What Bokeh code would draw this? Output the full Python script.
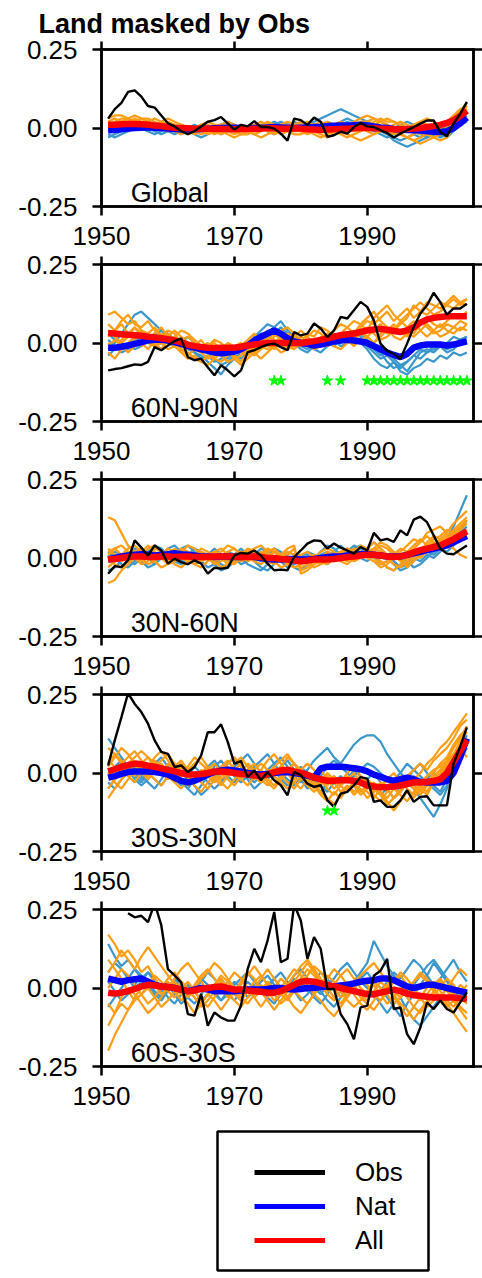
import numpy as np
from bokeh.plotting import figure
from bokeh.layouts import column
from bokeh.models import (Range1d, LinearAxis, FixedTicker, PrintfTickFormatter,
                          Label, Legend, LegendItem, BoxAnnotation)
from bokeh.embed import file_html
from bokeh.resources import INLINE

# Annual anomalies, 1951-2005, all series in units of 0.01
YEARS = list(range(1951, 2006))

# ---------------- Global ----------------
GLOBAL_OBS = [3, 6, 8, 11.5, 12, 10, 7, 6.5, 4, 1.5,
              0.5, -1, -2, -1, 0.5, 2, 2.5, 3.5, 1.5, -0.5,
              1, 0.5, 2.2, 0.3, 0.3, -0.2, -1.8, -4, 3, 2.5,
              1, 3.3, 2, -2.8, -2.3, -1.2, -1.8, 0.3, 1.6, 0.5,
              0.3, -0.7, -1.6, -3, -1.8, -0.7, 0.3, 1.4, 2.4, 2.4,
              -1.3, -2.6, 1.4, 4.5, 8.3]
GLOBAL_NAT = [-0.7, -0.6, -0.4, -0.2, 0, 0.1, 0.2, 0.1, 0, -0.2,
              -0.3, -0.4, -0.5, -0.4, -0.3, -0.2, -0.1, 0, 0.1, 0.1,
              0, -0.1, 0, 0.1, 0.2, 0.3, 0.2, 0.1, 0, 0.1,
              0.2, 0.3, 0.4, 0.6, 0.7, 0.8, 0.8, 0.9, 1, 0.8,
              0.5, 0.2, 0, -0.3, -0.5, -0.6, -0.7, -0.8, -1.0, -1.2,
              -1.3, -1.0, 0, 1.5, 3.3]
GLOBAL_ALL = [1, 1, 1.2, 1.3, 1.3, 1.2, 1, 0.8, 0.6, 0.3,
              0.1, 0, -0.1, -0.2, -0.2, -0.2, -0.3, -0.3, -0.3, -0.4,
              -0.3, -0.3, -0.2, -0.2, -0.1, -0.1, -0.2, -0.2, -0.1, -0.2,
              -0.4, -0.5, -0.6, -0.5, -0.4, -0.3, -0.2, -0.1, 0, 0,
              -0.1, -0.2, -0.3, -0.4, -0.4, -0.3, -0.2, 0, 0.3, 0.6,
              1, 1.6, 2.5, 3.8, 5.5]
GLOBAL_ALL_RUNS = [
    [1, 2, 3, 3, 2, 2, 1, 1, 0, 1, 0, -1, -1, 0, 1, 0, -1, -2, -1, 0, 0, -1, -1, 0, 1, 1, 0, -1, -2, -2,
     -1, 0, 1, 2, 1, 0, -1, -1, 0, 1, 2, 3, 2, 2, 1, 0, -1, -2, -1, 0, 1, 2, 4, 6, 7],
    [0, 1, 2, 3, 4, 3, 2, 1, 1, 2, 1, 0, -1, -2, -1, 0, 1, 1, 0, -1, -2, -2, -1, 0, 0, 1, 0, -1, 0, 1,
     0, -1, -2, -3, -2, -1, 0, 1, 2, 2, 3, 2, 1, -1, -2, -3, -4, -3, -2, -3, -2, 0, 2, 4, 6],
    [2, 3, 2, 1, 2, 3, 3, 2, 1, 0, 0, 1, 0, -1, -2, -1, 0, 1, 2, 1, 0, -1, 0, 1, 2, 1, 0, 0, -1, -1,
     -2, -1, -1, 0, 1, 2, 1, 0, -1, 0, 1, 2, 1, 0, -2, -3, -2, -1, -2, -3, -4, -3, 0, 3, 5],
    [-1, 0, 1, 2, 2, 1, 0, 1, 2, 3, 2, 1, 0, 0, -1, -2, -1, 0, -1, -2, -1, 0, 1, 0, -1, -2, -1, 0, 1, 2,
     1, 0, -1, 0, -1, -2, -3, -2, -1, 0, 1, 0, -1, -2, -1, 0, 1, 2, 3, 2, 1, 2, 4, 5, 8],
    [3, 4, 4, 3, 2, 1, 2, 3, 2, 1, 0, -1, -2, -1, 0, 1, 0, -1, -2, -3, -2, -1, -2, -1, 0, -1, -2, -1, 0, 1,
     2, 1, 0, -1, -2, -1, 0, 1, 0, -1, -2, -1, 0, 1, 2, 1, 0, -1, -2, -1, 0, 1, 3, 4, 6],
    [1, 1, 2, 2, 3, 2, 1, 0, 1, 0, -1, -2, -1, 0, 1, 2, 1, 0, 1, 0, -1, 0, 1, 2, 1, 0, 1, 2, 1, 0,
     -1, -2, -3, -2, -1, 0, 1, 2, 3, 4, 3, 2, 3, 2, 1, 0, 1, 2, 1, 0, -1, 0, 2, 5, 7],
    [2, 1, 0, 1, 2, 3, 2, 1, 0, -1, 0, 1, 0, -1, 0, -1, -2, -1, 0, 1, 0, -1, -2, -3, -2, -1, 0, 1, 0, -1,
     0, 1, 2, 1, 0, -1, -2, -3, -4, -3, -2, -1, 0, -1, -2, -3, -4, -5, -4, -3, -2, -1, 1, 3, 5],
]
GLOBAL_NAT_RUNS = [
    [-3, -2, -1, 0, 1, 0, -1, 0, 1, 0, -1, -2, -1, 0, 1, 0, -1, -2, -1, 0, 1, 0, -1, 0, 1, 2, 1, 0, -1, 0,
     1, 2, 3, 4, 5, 6, 5, 4, 3, 2, 1, 0, -2, -4, -5, -6, -5, -4, -3, -2, -1, 0, 2, 5, 8],
    [-2, -3, -2, -1, 0, 1, 0, -1, -2, -1, 0, 1, 0, -1, -2, -1, 0, 1, 0, -1, -2, -1, 0, 1, 0, -1, 0, 1, 2, 1,
     0, 1, 0, -1, 0, 1, 2, 1, 0, 1, 0, -1, -2, -3, -4, -3, -2, -3, -2, -1, -2, -3, -1, 1, 2],
    [0, 1, 0, -1, 0, 1, 2, 1, 0, -1, -2, -1, 0, 1, 0, -1, 0, 1, 2, 1, 0, -1, -2, -1, 0, 1, 2, 1, 0, -1,
     -1, 0, 1, 2, 1, 0, -1, 0, 1, 2, 3, 2, 1, 0, 1, 2, 1, 0, -1, -2, -1, 1, 3, 5, 7],
    [-1, 0, 1, 2, 1, 0, -1, -2, -1, 0, 1, 0, -1, -2, -3, -2, -1, 0, 1, 0, -1, 0, 1, 0, -1, -2, -1, 0, 1, 2,
     1, 0, -1, 0, 1, 2, 3, 2, 1, 0, -1, -2, -3, -2, -1, 0, -1, -2, -3, -2, -3, -2, 0, 2, 4],
]

# ---------------- 60N-90N ----------------
N60_OBS = [-8.7, -8.3, -8.0, -7.4, -6.8, -7.0, -6.0, -1.3, -2.3, -0.8,
           0.6, 1.5, -4.5, -5.5, -5.0, -7.7, -10.3, -7.1, -8.7, -10.6,
           -8.7, -2.9, -2.3, -1.3, -0.5, -0.2, -1.3, -2.3, 3.5, 2.4,
           3.0, 6.2, 4.6, 1.9, 4.0, 8.3, 7.8, 10.4, 13.1, 11.5,
           7.2, -0.2, -2.5, -3.5, -5.0, -0.2, 5.1, 9.4, 12.0, 16.0,
           13.0, 9.0, 11.0, 11.0, 12.5]
N60_NAT = [-1.5, -1.5, -1.2, -0.8, -0.3, 0.2, 0.8, 1.0, 1.0, 0.8,
           0.3, -0.3, -1.0, -1.5, -2.0, -2.5, -3.0, -3.3, -3.0, -2.8,
           -2.0, -0.8, 0.8, 2.0, 3.0, 4.0, 3.0, 1.5, 0.5, 0,
           -0.3, -0.8, -0.5, 0, 0.5, 0.8, 1.0, 0.8, 0.5, 0,
           -1.0, -2.0, -3.0, -3.8, -4.5, -3.5, -1.5, -0.8, -0.5, -0.5,
           -0.5, -0.8, -0.5, 0, 0.5]
N60_ALL = [3.2, 3.0, 2.8, 2.6, 2.5, 2.3, 2.0, 1.8, 1.5, 1.2,
           0.8, 0.2, -0.5, -1.0, -1.3, -1.5, -1.6, -1.5, -1.5, -1.5,
           -1.2, -0.8, -0.5, -0.2, 0, 0, 0, 0, 0, 0,
           0.3, 0.6, 1.0, 1.5, 2.0, 2.5, 2.8, 3.0, 3.5, 4.0,
           4.3, 4.5, 4.2, 3.8, 3.5, 4.0, 5.0, 6.5, 7.5, 8.0,
           8.3, 8.5, 8.5, 8.5, 8.5]
N60_ALL_RUNS = [
    [9, 10, 8, 6, 7, 4, 3, 5, 2, 0, 1, -2, -3, -5, -6, -4, -5, -3, -2, -4, -6, -3, -1, 2, 0, -2, 1, 3, 2, 0,
     2, 4, 3, 1, 4, 6, 5, 3, 6, 8, 10, 7, 5, 4, 6, 8, 12, 10, 9, 11, 13, 12, 14, 12, 14],
    [2, 4, 6, 3, 5, 2, 0, -1, 1, 3, 0, -2, -4, -2, -3, -5, -4, -2, 0, -1, -3, -4, -2, 0, 1, -1, -3, -2, 0, 2,
     1, -1, 0, 2, 3, 1, 2, 4, 3, 5, 3, 1, 2, 4, 7, 5, 3, 6, 8, 6, 5, 7, 9, 8, 10],
    [-3, -5, -2, 0, 2, 4, 1, 3, 5, 2, 4, 2, 0, -1, 1, -2, -3, -1, -4, -3, -1, 1, 3, 1, -1, 2, 4, 5, 3, 1,
     -1, 0, 2, 1, -1, -2, 0, 2, 4, 2, 0, 3, 5, 2, 1, 3, 2, 4, 6, 4, 2, 3, 5, 7, 6],
    [6, 4, 7, 9, 6, 5, 7, 4, 2, 4, 3, 0, -2, -1, -3, -1, 0, -2, -3, -1, 0, -2, -4, -2, 1, 3, 1, -1, -2, 0,
     3, 2, 5, 4, 2, 3, 5, 7, 6, 4, 8, 10, 12, 9, 7, 9, 11, 13, 11, 9, 10, 12, 11, 13, 12],
    [0, -2, 1, 3, 1, -1, 2, 0, -2, 1, -1, -3, -5, -4, -6, -7, -5, -6, -4, -2, -3, -1, -3, -5, -3, -1, 0, -2, -1, 1,
     -1, 1, 0, -1, 1, 2, 0, 1, 3, 2, 4, 6, 3, 5, 4, 2, 5, 7, 5, 3, 4, 6, 5, 4, 6],
    [4, 2, 0, 2, 5, 3, 1, -1, 0, -2, -1, 1, 2, 0, -2, -1, 1, 0, -2, -5, -4, -2, 0, -1, 2, 1, -1, 0, 2, 4,
     2, 0, 1, 3, 2, 0, 1, 3, 5, 7, 6, 8, 10, 7, 9, 11, 8, 10, 13, 12, 11, 13, 15, 13, 14],
    [-1, 1, -1, -3, -1, 0, -2, 1, 3, 1, 2, 4, 3, 1, -1, 0, -2, -4, -6, -5, -7, -5, -3, -1, -2, 0, 2, 0, 1, -1,
     0, -2, -1, 1, 0, 2, 1, -1, 1, 2, 0, 2, 4, 6, 3, 5, 7, 4, 2, 4, 6, 4, 3, 5, 4],
]
N60_NAT_RUNS = [
    [-2, 0, 3, 6, 9, 10, 8, 6, 4, 2, 1, 0, -2, -3, -5, -4, -6, -5, -3, -2, -3, -1, 2, 4, 6, 5, 3, 1, -1, 0,
     1, -1, 0, 2, 1, -1, 0, 1, 0, -2, -5, -7, -8, -6, -9, -10, -8, -7, -5, -6, -4, -5, -3, -4, -3],
    [1, -1, -3, -2, 0, 2, 1, 3, 2, 0, -1, 1, -1, -3, -4, -6, -8, -10, -7, -5, -3, -1, 1, 3, 2, 4, 1, -1, 0, -2,
     -3, -1, 1, 0, -1, 1, 2, 0, 1, -1, -3, -5, -4, -6, -8, -6, -4, -5, -3, -2, -1, -3, -2, 0, 1],
    [-4, -2, 0, -1, 1, 3, 1, -1, 0, 2, 1, 0, 2, 0, -2, -3, -2, -4, -5, -3, -1, 0, -2, 1, 3, 5, 7, 4, 2, 1,
     -1, -2, -3, -1, 0, 2, 1, 3, 2, 0, -2, -4, -3, -5, -7, -6, -4, -2, -3, -1, 0, -2, -1, 1, 2],
    [3, 1, -1, 0, -2, -1, 1, 2, 4, 3, 1, -1, 0, -2, -1, -3, -5, -7, -6, -4, -5, -3, 0, 2, 4, 3, 5, 3, 1, -1,
     -2, 0, -1, 1, 2, 3, 1, 2, 3, 1, -2, -3, -6, -8, -7, -9, -6, -3, -2, -3, -1, 0, 2, 1, 2],
]
N60_STAR_YEARS = [1976, 1977, 1984, 1986, 1990, 1991, 1992, 1993, 1994, 1995, 1996,
                  1997, 1998, 1999, 2000, 2001, 2002, 2003, 2004, 2005]

# ---------------- 30N-60N ----------------
N30_OBS = [-5.0, -2.6, -2.9, -0.7, 5.6, 3.3, 0.8, 4.0, 2.4, -1.8,
           -0.2, -1.3, -2.0, -0.7, -1.8, -5.0, -3.1, -3.4, -3.1, 0.8,
           1.6, 1.4, 2.4, 0.8, -1.8, -3.9, -3.7, -3.9, 0.3, 2.4,
           4.6, 5.6, 5.4, 3.0, 4.6, 3.3, 2.4, 1.4, 3.5, 2.4,
           8.0, 5.6, 6.1, 5.1, 8.8, 7.2, 12.2, 13.2, 11.4, 7.2,
           3.0, 1.4, 1.2, 2.6, 4.0]
N30_NAT = [-0.5, 0, 0.5, 0.8, 1.0, 1.2, 1.0, 0.8, 1.0, 1.2,
           1.5, 1.2, 1.0, 0.8, 0.5, 0.5, 0.3, 0.5, 0.5, 0.3,
           0.3, 0.5, 0.3, 0, -0.3, -0.5, -0.5, -0.3, -0.3, -0.5,
           -0.5, -0.3, 0, 0.3, 0.5, 0.5, 0.8, 1.0, 1.2, 1.2,
           1.0, 0.8, 0.5, 0.5, 0.5, 1.0, 1.5, 2.0, 2.5, 3.0,
           3.5, 4.0, 5.0, 6.0, 7.0]
N30_ALL = [-0.5, -0.3, 0, 0.3, 0.5, 0.5, 0.3, 0.3, 0.5, 0.5,
           0.3, 0.5, 0.5, 0.3, 0.3, 0.3, 0.5, 0.5, 0.5, 0.5,
           0.3, 0.3, 0.5, 0.3, 0, 0, -0.3, -0.5, -0.8, -1.0,
           -0.8, -0.5, -0.5, -0.5, -0.3, 0, 0.3, 0.5, 0.8, 1.0,
           1.0, 0.8, 0.5, 0.3, 0.5, 1.0, 1.8, 2.5, 3.0, 3.5,
           4.0, 5.0, 6.0, 7.2, 8.5]
N30_ALL_RUNS = [
    [13, 12, 8, 4, 2, 3, 1, 0, 2, 1, -1, 0, 2, 1, -1, 0, -2, -1, 1, 0, 2, 1, -1, 0, 2, 3, 1, -1, 0, -2,
     -1, 1, 0, 2, 1, 0, -1, 1, 2, 0, -1, -3, -2, 0, 2, 4, 6, 5, 8, 9, 10, 8, 11, 13, 15],
    [-8, -7, -4, -2, 0, -1, 1, 3, 2, 0, -2, -3, -1, 0, 2, 1, -1, 0, 2, 3, 1, -1, 0, 2, 1, -1, -3, -2, 0, 1,
     2, 0, -2, -1, 1, 2, 0, -1, 1, 2, 1, -1, -3, -4, -2, 0, 1, 3, 4, 6, 7, 9, 8, 10, 12],
    [2, 3, 1, -1, 0, 2, 4, 2, 0, -1, 1, 3, 2, 0, -1, 1, 2, 0, -2, -1, 0, 2, 3, 4, 2, 0, -1, 1, 3, -4,
     -3, -1, 0, 2, 1, -1, -2, 0, 1, 3, 2, 4, 3, 1, -1, -2, 0, 2, 5, 7, 6, 5, 3, 1, 0],
    [0, -2, -3, -1, 1, 0, -2, -1, 1, 3, 2, 0, -1, 1, 3, 2, 0, 1, -1, -2, 0, 1, -1, -2, 0, 2, 1, 3, 4, -5,
     -4, -2, -1, 1, 0, 2, 3, 1, 0, 2, 3, 5, 4, 2, 0, -3, -1, 1, 3, 5, 4, 6, 9, 11, 13],
    [1, 3, 4, 2, 0, -2, -1, 1, 0, -2, 0, 2, 4, 3, 1, 0, 2, 3, 1, 0, -1, 0, 2, 1, -1, -2, 0, 2, 1, -3,
     -2, 0, 2, 3, 2, 0, 1, 3, 2, 1, 0, -2, -1, 1, 3, 2, 4, 6, 4, 3, 5, 7, 8, 7, 9],
    [-3, -1, 1, 3, 4, 2, 0, -1, -3, -2, -1, 1, 0, -2, -3, -1, 1, 2, 4, 3, 1, 3, 2, 0, -2, -1, 1, 0, -1, -2,
     0, 1, -1, -2, 0, 2, 1, -1, 0, 1, 3, 2, 0, -2, -3, -1, 1, 0, 2, 4, 6, 8, 7, 9, 11],
    [3, 1, -1, 0, 2, 1, 3, 4, 2, 1, 3, 1, -1, -2, 0, 1, -1, -3, -2, 0, 2, 0, -1, 1, 3, 2, 0, -2, -3, -2,
     -1, -3, -2, 0, -1, 1, 3, 2, 4, 3, 5, 3, 1, 2, 0, 1, 3, 5, 7, 5, 4, 6, 8, 10, 12],
]
N30_NAT_RUNS = [
    [-4, -3, -1, 1, 3, 2, 0, -1, 1, 3, 4, 2, 0, -2, -1, 1, 0, -2, -3, -1, 0, -2, -3, -4, -2, 0, 1, -1, -3, -4,
     -2, 0, 2, 4, 3, 1, 2, 4, 3, 1, 0, -2, -1, 1, 0, -1, -3, -2, 0, 2, 3, 6, 10, 15, 20],
    [0, 2, 1, -1, -2, 0, 2, 4, 3, 1, 0, -1, 1, 3, 2, 0, -2, -4, -3, -1, 1, 2, 0, -1, 1, 3, 2, 0, -2, -1,
     1, 0, -1, 1, 2, 4, 2, 0, 1, 3, 5, 3, 1, -1, -3, -2, 0, -1, 1, 0, 2, 4, 7, 9, 12],
    [2, 0, -2, -3, -1, 1, 0, -2, 0, 2, 1, 3, 4, 2, 0, 1, 3, 1, -1, 0, -2, -1, 1, 3, 2, 0, -1, -3, -2, 0,
     2, 1, -1, -2, 0, 1, 3, 2, 0, -1, 1, 2, 0, -2, -4, -3, -1, 1, 2, 1, 3, 2, 4, 6, 8],
    [1, -1, 0, 2, 1, -1, -3, -2, 0, 1, -1, -2, 0, 1, -1, -3, -2, 0, 2, 1, 3, 1, -1, -3, -4, -2, 0, 2, 1, -1,
     -2, -1, 1, 2, 0, -1, 1, 3, 4, 2, 0, -1, -3, -4, -2, -1, 1, 3, 2, 4, 5, 4, 6, 8, 10],
]

# ---------------- 30S-30N ----------------
TROP_OBS = [2.4, 10.4, 17.8, 25.4, 22.0, 19.4, 15.7, 10.4, 6.7, 6.1,
            1.9, 2.4, 0.3, 1.9, 5.6, 13.0, 13.0, 15.5, 9.9, 3.0,
            3.8, -1.3, 0.8, -2.3, 0.3, -2.3, -3.9, -7.1, 0.3, -0.7,
            -3.4, -4.4, -3.9, -8.7, -10.8, -6.6, -6.0, -3.9, -1.3, -1.8,
            -9.2, -8.7, -10.8, -10.8, -8.7, -5.5, -9.2, -7.6, -7.4, -10.3,
            -10.3, -10.3, 3.0, 8.5, 14.5]
TROP_NAT = [-1.5, -1.0, -0.3, 0.3, 0.5, 0.5, 0.5, 0.3, 0, -0.5,
            -1.5, -2.5, -3.0, -2.5, -1.5, -0.5, 0.3, 0.8, 1.0, 0.8,
            0.5, 0, -0.3, -0.5, -0.3, 0, 0.2, 0.3, 0, -0.3,
            -0.8, -1.5, 1.5, 2.0, 2.0, 2.0, 1.8, 1.5, 1.2, 0.5,
            -0.5, -1.2, -2.0, -2.5, -2.0, -1.5, -2.0, -2.8, -3.0, -3.0,
            -3.0, -2.5, 0, 5.0, 11.0]
TROP_ALL = [0.5, 1.2, 2.0, 2.5, 3.0, 2.8, 2.3, 2.0, 1.5, 1.0,
            0.5, 0, -0.5, -0.5, -0.3, 0, 0.5, 0.5, 0.3, 0,
            -0.3, -0.5, -0.8, -1.0, -0.5, 0.3, 0.8, 1.0, 0.5, 0,
            -0.5, -1.5, -2.0, -2.5, -2.5, -2.3, -2.3, -2.5, -3.0, -4.0,
            -4.3, -4.5, -4.5, -4.3, -4.0, -3.5, -3.0, -3.0, -2.8, -2.5,
            -2.0, 0, 3.5, 7.0, 10.5]
TROP_ALL_RUNS = [
    [8, 6, 3, 5, 7, 4, 2, 5, 7, 4, 1, 3, -1, -3, 0, 2, -2, -4, -1, 1, 3, 0, -2, 1, 4, 6, 3, 0, -3, -5,
     -2, -4, -7, -9, -6, -8, -5, -3, -6, -4, -7, -9, -6, -3, -1, -4, -2, 0, 3, 5, 8, 10, 13, 16, 19],
    [-8, -5, -2, 0, 3, 1, -1, 2, 4, 6, 3, 0, 2, 5, 3, 1, -1, -3, -5, -2, 0, 3, 1, -2, -4, -1, 2, 5, 3, 0,
     -2, -5, -3, 0, -2, -4, -6, -3, -1, -4, -6, -3, -5, -8, -6, -3, -5, -7, -4, -1, 1, 4, 8, 11, 15],
    [2, 5, 8, 6, 3, 0, -2, 1, 3, 0, -3, -5, -2, 0, -2, 1, 3, 0, -2, -4, -1, 1, -1, -3, -1, 2, 4, 6, 3, 1,
     3, 1, -2, -4, -1, -3, 0, 2, -1, -3, -5, -7, -10, -8, -5, -2, -4, -6, -3, 0, 3, 5, 9, 12, 14],
    [0, -3, -5, -2, 1, 3, 5, 3, 0, -2, 0, 2, -1, -4, -6, -3, -1, 2, 4, 1, -2, -4, -1, 1, -2, -4, -1, 1, 3, 0,
     -3, -1, 1, -2, -5, -3, -1, -4, -7, -5, -3, -6, -9, -12, -9, -6, -8, -5, -7, -3, -1, 2, 5, 7, 9],
    [4, 2, 0, 3, 5, 7, 5, 2, 0, 3, 1, -2, -4, -2, 1, -1, -3, -1, 2, 0, -2, 1, 3, 0, -3, -5, -2, 0, -2, 1,
     -1, -4, -2, -5, -7, -4, -2, 0, -3, -6, -8, -5, -2, 0, -3, -5, -7, -4, -6, -2, 0, 3, 6, 10, 13],
    [-5, -2, 1, -1, -3, 0, 2, 4, 1, -1, -3, -1, 1, 3, 5, 2, 0, -2, 0, 3, 5, 2, -1, -3, 0, 2, -1, -3, -5, -2,
     0, -3, -6, -8, -10, -7, -4, -6, -4, -2, -4, -6, -8, -5, -3, -1, 1, 3, 1, 4, 6, 8, 11, 15, 17],
    [3, 6, 4, 1, -1, 2, 0, -2, -4, -1, 2, 4, 1, -1, -3, -5, -2, 1, 3, 5, 2, -1, 1, 3, 1, -1, -3, -5, -3, -1,
     -4, -6, -4, -1, -3, -6, -4, -7, -5, -8, -6, -4, -2, -5, -7, -9, -6, -3, -1, 1, 2, 4, 6, 8, 5],
]
TROP_NAT_RUNS = [
    [11, 8, 5, 2, -1, -3, 0, -2, -4, -1, 1, -2, -5, -7, -4, -1, 2, 4, 1, -1, -3, -1, 2, 4, 6, 3, 0, -2, -4, -1,
     1, 4, 6, 8, 5, 3, 6, 9, 11, 12, 12, 10, 6, 3, 0, -2, 1, 3, 0, -4, -6, -2, 3, 7, 10],
    [-3, -5, -2, 0, 2, -1, -3, -5, -2, 1, 3, 0, -2, -4, -7, -5, -2, 0, 3, 5, 2, -1, -3, -1, 1, 3, 5, 2, -1, -3,
     -1, -4, -6, -3, -1, -4, -2, 1, -1, -3, -5, -7, -5, -8, -6, -3, -5, -8, -11, -14, -10, -5, 2, 8, 12],
    [0, 2, 4, 1, -2, -4, -2, 1, 3, 0, -2, -4, -1, 2, 0, -3, -5, -3, 0, 2, 4, 6, 3, 0, -2, 0, 2, 4, 1, -2,
     -5, -3, -1, 2, 4, 2, 0, -2, -4, -2, 0, -3, -5, -2, 0, 3, 1, -1, -3, -5, -7, -4, 0, 4, 8],
    [-5, -2, 1, 3, 0, -2, 1, 3, 5, 2, -1, -3, -5, -2, 0, 2, 4, 1, -1, -3, 0, -2, -5, -3, -1, 1, -2, -4, -1, 2,
     0, -2, -4, -6, -3, -1, -3, -1, 1, 3, 2, 0, -2, -4, -6, -3, -1, -4, -2, 0, -2, 1, 4, 6, 9],
]
TROP_STAR_YEARS = [1984, 1985]

# ---------------- 60S-30S ----------------
S60_OBS = [np.nan, np.nan, np.nan, 23.8, 22.5, 23.0, 21.0, 27.0, 20.0, 6.0,
           4.0, 1.8, -8.3, -8.8, -1.9, -12.0, -7.8, -9.4, -10.4, -10.4,
           -5.6, 6.0, 12.5, 8.2, 15.1, 24.2, 8.2, 9.3, 26.6, 21.5,
           9.3, 16.2, 12.5, -0.3, -0.3, -8.3, -11.5, -16.3, -6.2, -5.6,
           3.9, 5.5, 9.3, -6.7, -6.2, -14.7, -17.9, -12.6, -4.6, -6.7,
           -4.0, -6.7, -7.8, -4.6, -1.4]
S60_NAT = [3.0, 2.5, 2.0, 2.5, 2.8, 3.0, 2.0, 1.0, 0.5, 0.3,
           0, -0.5, -1.0, -0.5, 0, -0.5, -1.0, -1.0, -1.0, -1.0,
           -0.8, -0.5, -0.5, -0.5, -0.3, 0, 0, -0.3, -0.5, -0.3,
           0, 0, 0.3, 0.5, 0.5, 0.8, 1.0, 1.5, 2.0, 2.3,
           2.5, 3.0, 3.0, 2.5, 1.5, 0.5, 0, 0.5, 1.0, 1.0,
           0.5, 0, -0.5, -1.0, -1.5]
S60_ALL = [-1.5, -1.8, -1.5, -1.0, -0.3, 0.5, 1.0, 0.8, 0.5, 0.3,
           0, -0.5, -1.0, -0.8, -0.3, 0, 0.3, 0.5, 0, -0.5,
           -0.5, -0.8, -1.0, -1.2, -1.5, -1.5, -1.0, 0, 1.0, 2.0,
           2.2, 2.0, 1.5, 1.0, 0.5, 0, -0.5, -1.0, -1.5, -2.0,
           -2.0, -1.5, -1.0, -0.5, -1.0, -1.8, -2.3, -2.5, -2.8, -3.0,
           -3.0, -3.0, -3.0, -3.3, -3.5]
S60_ALL_RUNS = [
    [-20, -15, -11, -7, -4, -2, 0, -3, -6, -4, -1, 2, 0, -3, -5, -2, 1, 3, 0, -2, -4, -1, 2, 4, 1, -2, -5, -3, 0, 3,
     6, 4, 1, -2, -4, -1, 2, 0, -3, -5, -7, -4, -1, 2, 5, 3, 0, -3, -6, -4, -2, -5, -8, -11, -14],
    [17, 14, 10, 12, 9, 5, 7, 3, 0, 2, -1, -4, -2, 1, 4, 6, 3, 0, -3, -1, 2, 5, 3, -1, -4, -7, -4, -1, 2, 5,
     8, 5, 2, -1, 1, 4, 6, 3, 0, -2, 1, -2, -5, -3, 0, -3, -6, -8, -5, -2, 0, 3, 1, -2, 1],
    [-12, -8, -5, -7, -3, 0, 3, 1, -2, 0, 3, 6, 8, 5, 2, -1, 1, 4, 2, -1, -3, -5, -2, 1, -1, -4, -2, 1, 4, 7,
     9, 6, 3, 0, -3, -5, -2, 1, -2, -4, -1, 2, 0, -3, -6, -9, -6, -3, 0, 2, -1, -4, -6, -3, -5],
    [5, 8, 12, 9, 6, 10, 13, 10, 7, 4, 1, -2, -5, -8, -5, -2, -4, -7, -4, -1, 1, 4, 7, 4, 1, -2, 0, 3, 6, 4,
     1, -2, -4, -7, -9, -6, -3, 0, 3, 1, -2, -4, -1, 2, 4, 1, -2, -4, -2, 1, 3, 0, -2, 1, -1],
    [-5, -8, -3, 0, -2, -5, -8, -6, -3, 0, 2, -1, -3, 0, 3, 5, 8, 6, 3, 0, -2, 0, -3, -6, -3, 0, 3, 1, -1, -3,
     -5, -2, 1, 4, 2, -1, -4, -6, -4, -1, 2, 0, -2, -5, -3, 0, 2, 5, 3, 0, -3, -6, -4, -7, -10],
    [9, 6, 3, -1, -4, -2, 1, 4, 2, -1, -3, 0, 2, -1, -4, -6, -3, 0, 2, 5, 3, 0, -3, -1, 2, 0, -2, -4, -1, 2,
     4, 7, 5, 2, 0, -3, -1, 2, 4, 6, 8, 5, 2, -1, -3, -1, 2, 4, 2, -1, -3, 0, 3, 6, 4],
    [0, 3, 6, 4, 1, -2, -5, -3, 0, 3, 5, 2, -1, -3, -6, -4, -1, 2, -1, -4, -6, -3, 0, 3, 6, 3, 0, -3, -6, -8,
     -5, -2, 1, 3, 6, 4, 1, -2, -5, -7, -4, -1, 1, -2, -5, -7, -10, -7, -4, -1, 2, -1, -3, -6, -8],
]
S60_NAT_RUNS = [
    [14, 10, 7, 9, 6, 3, 5, 2, -1, 1, -2, -5, -3, 0, 3, 1, -2, -4, -1, 2, 0, -3, -1, 2, 4, 1, -2, 0, 3, 1,
     -1, 2, 5, 3, 0, -3, -1, 2, 5, 8, 15, 11, 7, 4, 1, -2, 1, 4, 7, 9, 6, 3, 0, -2, -4],
    [5, 8, 6, 3, 0, 2, 5, 3, 0, -3, -5, -2, 1, -1, -4, -2, 1, 3, 0, -2, -4, -1, 1, -2, 0, 3, 5, 2, -1, -4,
     -2, 1, -1, -4, -6, -3, 0, 2, 4, 1, -2, -5, -8, -5, -3, -7, -10, -12, -9, -6, -3, 0, -2, -4, -1],
    [-6, -3, 0, 3, 6, 4, 1, -2, -4, -1, 2, 0, -3, -5, -2, 1, -1, -4, -2, 1, 3, 5, 2, 0, -3, -5, -2, 1, 4, 6,
     3, 0, -2, 1, 3, 6, 8, 5, 2, 0, -3, -1, 2, 5, 3, 6, 9, 7, 4, 1, 3, 6, 9, 5, 2],
    [2, -1, -4, -2, 1, 4, 2, -1, -3, 0, 3, 1, -2, 0, 2, 5, 3, 0, -2, -4, -1, 2, 0, -2, 1, 3, 0, -3, -1, 2,
     0, -3, -5, -2, 1, -1, -3, 0, 3, 5, 2, 0, -3, -6, -9, -5, -2, 1, 4, 8, 5, 2, -1, -3, -2],
]

STAR_LEVEL = -12  # significance markers are drawn along this level

REGIONS = ["Global", "60N-90N", "30N-60N", "30S-30N", "60S-30S"]
PANELS = [
    (GLOBAL_OBS, GLOBAL_NAT, GLOBAL_ALL, GLOBAL_ALL_RUNS, GLOBAL_NAT_RUNS, []),
    (N60_OBS, N60_NAT, N60_ALL, N60_ALL_RUNS, N60_NAT_RUNS, N60_STAR_YEARS),
    (N30_OBS, N30_NAT, N30_ALL, N30_ALL_RUNS, N30_NAT_RUNS, []),
    (TROP_OBS, TROP_NAT, TROP_ALL, TROP_ALL_RUNS, TROP_NAT_RUNS, TROP_STAR_YEARS),
    (S60_OBS, S60_NAT, S60_ALL, S60_ALL_RUNS, S60_NAT_RUNS, []),
]

FONT = "Liberation Sans"
ORANGE = "#FF9E14"
LIGHT_BLUE = "#3B97CC"
FRAME_H = 157
FRAME_W = 372
LEFT, RIGHT = 101, 9
TOP_FIRST, TOP, BOTTOM = 49, 16, 50
OVERLAP = 8          # lower panels tuck up under the year labels above them
PAGE_H = 1278


def scaled(vals):
    arr = np.asarray(vals, dtype=float)
    assert arr.size == len(YEARS), arr.size
    return arr / 100.0


def style_axis(ax, show_labels, tick_out=9):
    ax.axis_line_color = "black"
    ax.axis_line_width = 2.5
    ax.axis_line_cap = "square"
    ax.major_tick_line_color = "black"
    ax.major_tick_line_width = 2.5
    ax.major_tick_in = 0
    ax.major_tick_out = tick_out
    ax.minor_tick_line_color = None
    if show_labels:
        ax.major_label_text_font = FONT
        ax.major_label_text_font_size = "26px"
        ax.major_label_text_color = "black"
    else:
        ax.major_label_text_color = None
        ax.major_label_text_font_size = "0px"
        ax.major_label_standoff = 0


def make_panel(idx):
    obs, nat, allf, all_runs, nat_runs, stars = PANELS[idx]
    top = TOP_FIRST if idx == 0 else TOP
    p = figure(width=LEFT + FRAME_W + RIGHT, height=top + FRAME_H + BOTTOM,
               x_range=Range1d(1950, 2006), y_range=Range1d(-0.25, 0.25),
               output_backend="svg", toolbar_location=None, tools="",
               x_axis_location=None, y_axis_location=None,
               min_border_left=LEFT, min_border_right=RIGHT,
               min_border_top=top, min_border_bottom=BOTTOM)
    if idx > 0:
        p.margin = (-OVERLAP, 0, 0, 0)
    p.grid.grid_line_color = None
    p.outline_line_color = "black"
    p.outline_line_width = 2.5
    p.background_fill_color = "white"
    p.border_fill_color = None

    xt = FixedTicker(ticks=[1950, 1970, 1990])
    yt = FixedTicker(ticks=[-0.25, 0.0, 0.25])

    bottom = LinearAxis(ticker=xt)
    style_axis(bottom, True)
    bottom.major_label_standoff = 11
    p.add_layout(bottom, "below")

    top_ax = LinearAxis(ticker=xt)
    style_axis(top_ax, False, tick_out=8)
    p.add_layout(top_ax, "above")

    left = LinearAxis(ticker=yt, formatter=PrintfTickFormatter(format="%.2f"))
    style_axis(left, True)
    left.major_label_standoff = 15
    p.add_layout(left, "left")

    right = LinearAxis(ticker=yt)
    style_axis(right, False)
    p.add_layout(right, "right")

    for run in nat_runs:
        p.line(YEARS, scaled(run), line_color=LIGHT_BLUE, line_width=2.2)
    for run in all_runs:
        p.line(YEARS, scaled(run), line_color=ORANGE, line_width=2.2)
    p.line(YEARS, scaled(nat), line_color="#0000FF", line_width=6.5)
    p.line(YEARS, scaled(allf), line_color="#FF0000", line_width=6.5)
    p.line(YEARS, scaled(obs), line_color="black", line_width=2.4)
    if stars:
        p.scatter(stars, [STAR_LEVEL / 100.0] * len(stars), marker="star", size=11,
                  fill_color="#00FF00", line_color="#00FF00")

    p.add_layout(Label(x=1954.4, y=-0.208, text=REGIONS[idx], text_font=FONT,
                       text_font_size="27px", text_color="black",
                       text_baseline="middle"))

    if idx == 0:
        p.title.text = "Land masked by Obs"
        p.title.text_font = FONT
        p.title.text_font_style = "bold"
        p.title.text_font_size = "27px"
        p.title.text_color = "black"
        p.title.align = "left"
        p.title.offset = -63
        p.title.standoff = 6
    return p


panels = [make_panel(i) for i in range(len(PANELS))]

# Legend area below the panels; its ranges are laid out in page pixels
used = TOP_FIRST + FRAME_H + BOTTOM + 4 * (TOP + FRAME_H + BOTTOM - OVERLAP)
leg_h = PAGE_H - used
leg = figure(width=LEFT + FRAME_W + RIGHT, height=leg_h,
             x_range=Range1d(LEFT, LEFT + FRAME_W), y_range=Range1d(PAGE_H, used),
             output_backend="svg", toolbar_location=None, tools="",
             x_axis_location=None, y_axis_location=None,
             min_border_left=LEFT, min_border_right=RIGHT,
             min_border_top=0, min_border_bottom=0)
leg.grid.grid_line_color = None
leg.outline_line_color = None
leg.border_fill_color = None
leg.add_layout(BoxAnnotation(left=217, right=428, top=1131, bottom=1270,
                             fill_alpha=0, line_color="black", line_alpha=1.0,
                             line_width=2.5))
r_obs = leg.line(x=[np.nan], y=[np.nan], line_color="black", line_width=5)
r_nat = leg.line(x=[np.nan], y=[np.nan], line_color="#0000FF", line_width=5)
r_all = leg.line(x=[np.nan], y=[np.nan], line_color="#FF0000", line_width=5)
legend = Legend(items=[LegendItem(label="Obs", renderers=[r_obs]),
                       LegendItem(label="Nat", renderers=[r_nat]),
                       LegendItem(label="All", renderers=[r_all])],
                location=(153, 21), padding=0, margin=0, spacing=0,
                glyph_width=71, glyph_height=34, label_height=34, label_standoff=30,
                border_line_color=None, background_fill_alpha=0,
                label_text_font=FONT, label_text_font_size="26px",
                label_text_color="black")
leg.add_layout(legend)

layout = column(*panels, leg, spacing=0)
open("out.html", "w").write(file_html(layout, INLINE))
